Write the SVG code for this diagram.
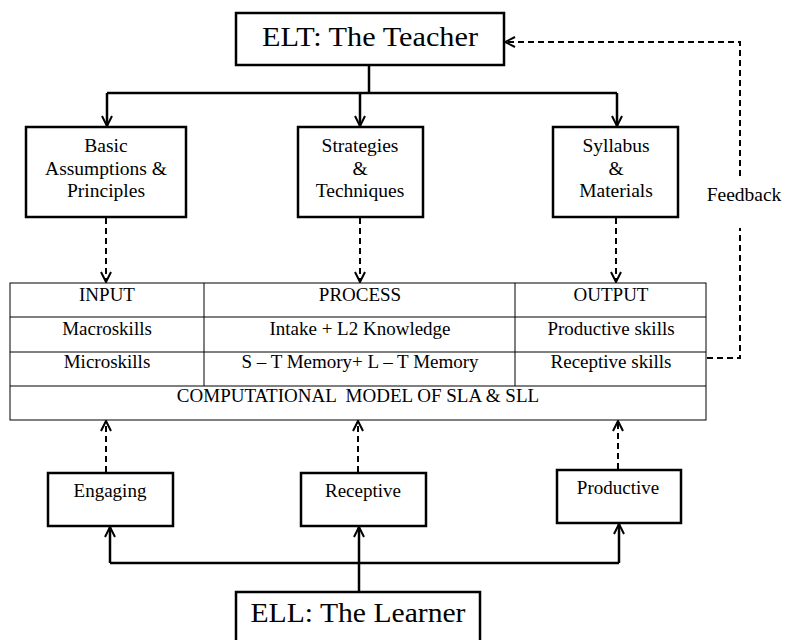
<svg xmlns="http://www.w3.org/2000/svg" width="785" height="640" viewBox="0 0 785 640">
<defs>
<marker id="arr" viewBox="0 0 12 12" refX="11" refY="6" markerWidth="12" markerHeight="12" markerUnits="userSpaceOnUse" orient="auto">
<path d="M1,1 L11,6 L1,11" fill="none" stroke="#000" stroke-width="2"/>
</marker>
<style>
.box{fill:#fff;stroke:#000;stroke-width:2.5}
.cell{fill:none;stroke:#000;stroke-width:1}
.solid{fill:none;stroke:#000;stroke-width:2.5}
.dash{fill:none;stroke:#000;stroke-width:2;stroke-dasharray:6,4}
text{font-family:"Liberation Serif","Times New Roman",serif;fill:#000;text-anchor:middle}
.big{font-size:27px}
.mid{font-size:19.5px}
.sm{font-size:19px}
</style>
</defs>
<rect width="785" height="640" fill="#fff"/>
<g id="connectors">
<path class="solid" d="M369,66 V93"/>
<path class="solid" d="M107,93 H617"/>
<path class="solid" d="M107,93 V126" marker-end="url(#arr)"/>
<path class="solid" d="M360,93 V126" marker-end="url(#arr)"/>
<path class="solid" d="M617,93 V126" marker-end="url(#arr)"/>
<path class="dash" d="M106,218 V282" marker-end="url(#arr)"/>
<path class="dash" d="M360,218 V282" marker-end="url(#arr)"/>
<path class="dash" d="M616,218 V282" marker-end="url(#arr)"/>
<path class="dash" d="M707,358 H740 V228"/>
<path class="dash" d="M740,176 V42 H505" marker-end="url(#arr)"/>
<path class="dash" d="M106,472 V421" marker-end="url(#arr)"/>
<path class="dash" d="M358,472 V421" marker-end="url(#arr)"/>
<path class="dash" d="M618,469 V421" marker-end="url(#arr)"/>
<path class="solid" d="M359,592 V563"/>
<path class="solid" d="M110,563 H619"/>
<path class="solid" d="M110,563 V527" marker-end="url(#arr)"/>
<path class="solid" d="M359,563 V527" marker-end="url(#arr)"/>
<path class="solid" d="M619,563 V524" marker-end="url(#arr)"/>
</g>
<g id="teacher">
<rect class="box" x="236" y="13" width="268" height="52"/>
<text class="big" x="370" y="46" textLength="216" lengthAdjust="spacingAndGlyphs">ELT: The Teacher</text>
</g>
<g id="assumptions">
<rect class="box" x="26" y="127" width="160" height="90"/>
<text class="mid" x="106" y="152">Basic</text>
<text class="mid" x="106" y="175">Assumptions &amp;</text>
<text class="mid" x="106" y="197">Principles</text>
</g>
<g id="strategies">
<rect class="box" x="298" y="127" width="125" height="90"/>
<text class="mid" x="360" y="152">Strategies</text>
<text class="mid" x="360" y="175">&amp;</text>
<text class="mid" x="360" y="197">Techniques</text>
</g>
<g id="syllabus">
<rect class="box" x="553" y="127" width="125" height="90"/>
<text class="mid" x="616" y="152">Syllabus</text>
<text class="mid" x="616" y="175">&amp;</text>
<text class="mid" x="616" y="197">Materials</text>
</g>
<g id="feedback">
<text class="mid" x="744" y="201">Feedback</text>
</g>
<g id="table">
<rect class="cell" x="10" y="283" width="696" height="137"/>
<path class="cell" d="M10,317 H706 M10,352 H706 M10,386 H706 M204,283 V386 M515,283 V386"/>
<text class="sm" x="107" y="301">INPUT</text>
<text class="sm" x="360" y="301">PROCESS</text>
<text class="sm" x="611" y="301">OUTPUT</text>
<text class="sm" x="107" y="335">Macroskills</text>
<text class="sm" x="360" y="335">Intake + L2 Knowledge</text>
<text class="sm" x="611" y="335">Productive skills</text>
<text class="sm" x="107" y="368">Microskills</text>
<text class="sm" x="360" y="368">S – T Memory+ L – T Memory</text>
<text class="sm" x="611" y="368">Receptive skills</text>
<text class="sm" x="358" y="402" xml:space="preserve">COMPUTATIONAL  MODEL OF SLA &amp; SLL</text>
</g>
<g id="engaging">
<rect class="box" x="48" y="473" width="125" height="53"/>
<text class="sm" x="110" y="497">Engaging</text>
</g>
<g id="receptive">
<rect class="box" x="301" y="473" width="125" height="53"/>
<text class="sm" x="363" y="497">Receptive</text>
</g>
<g id="productive">
<rect class="box" x="557" y="470" width="124" height="53"/>
<text class="sm" x="618" y="494">Productive</text>
</g>
<g id="learner">
<rect class="box" x="236" y="592" width="244" height="52"/>
<text class="big" x="358" y="622" textLength="215" lengthAdjust="spacingAndGlyphs">ELL: The Learner</text>
</g>
</svg>
